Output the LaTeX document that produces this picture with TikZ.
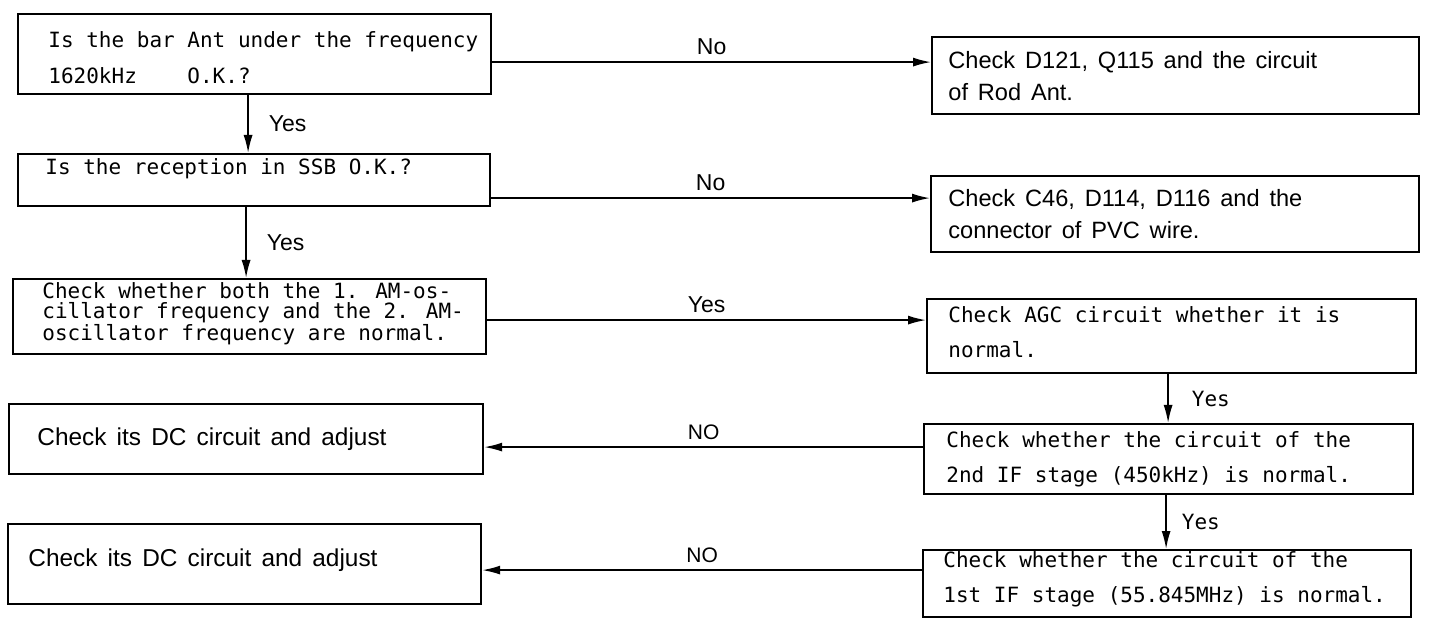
\documentclass[tikz,border=0pt]{standalone}
\usepackage{fontspec}
\setmainfont{Liberation Sans}
\newfontfamily\monof{DejaVu Sans Mono}
\newfontfamily\sansf[WordSpace=1.5]{Liberation Sans}
\usetikzlibrary{arrows.meta}
\begin{document}
\begin{tikzpicture}[x=0.5pt,y=-0.5pt,
  box/.style={draw, line width=1.1pt, inner sep=0pt, anchor=north west},
  mono/.style={font=\monof\fontsize{10.5pt}{18pt}\selectfont, align=left, inner sep=0pt, anchor=west},
  monotight/.style={font=\monof\fontsize{10.5pt}{10pt}\selectfont, align=left, inner sep=0pt, anchor=west},
  monoR/.style={font=\monof\fontsize{10.5pt}{17.5pt}\selectfont, align=left, inner sep=0pt, anchor=west},
  sansL/.style={font=\sansf\fontsize{12.2pt}{16pt}\selectfont, align=left, inner sep=0pt, anchor=west},
  sansR/.style={font=\sansf\fontsize{11.8pt}{16pt}\selectfont, align=left, inner sep=0pt, anchor=west},
  lab/.style={font=\sansf\fontsize{11.5pt}{12pt}\selectfont, inner sep=0pt},
  labcaps/.style={font=\sansf\fontsize{10.5pt}{12pt}\selectfont, inner sep=0pt},
  monolab/.style={font=\monof\fontsize{10.5pt}{12pt}\selectfont, inner sep=0pt},
  conn/.style={line width=0.8pt, -{Latex[length=9pt,width=4.5pt]}}
]
\fill[white] (0,0) rectangle (1436,620);
\useasboundingbox (0,0) rectangle (1436,620);

% left column boxes
\node[box, minimum width=236.5pt, minimum height=40pt] (b1) at (17,13) {};
\node[box, minimum width=236pt, minimum height=26pt] (b2) at (17,153) {};
\node[box, minimum width=236.5pt, minimum height=37.5pt] (b3) at (12,278) {};
\node[box, minimum width=237pt, minimum height=35pt] (b4) at (8,403) {};
\node[box, minimum width=236.5pt, minimum height=40pt] (b5) at (7,523) {};
% right column boxes
\node[box, minimum width=243.5pt, minimum height=38.5pt] (r1) at (931,36) {};
\node[box, minimum width=244pt, minimum height=38pt] (r2) at (930,175) {};
\node[box, minimum width=244.5pt, minimum height=37pt] (r3) at (926,298) {};
\node[box, minimum width=244.5pt, minimum height=35pt] (r4) at (923,423) {};
\node[box, minimum width=244pt, minimum height=33.5pt] (r5) at (922,549) {};

% texts
\node[mono] (t1) at ([xshift=15.5pt,yshift=-2pt]b1.west) {Is the bar Ant under the frequency\\1620kHz\ \ \ \ O.K.?};
\node[mono] (t2) at ([xshift=14pt,yshift=5.5pt]b2.west) {Is the reception in SSB O.K.?};
\node[monotight] (t3) at ([xshift=15pt,yshift=1.5pt]b3.west) {Check whether both the 1. AM-os-\\cillator frequency and the 2. AM-\\oscillator frequency are normal.};
\node[sansL] (t4) at ([xshift=14.5pt]b4.west) {Check its DC circuit and adjust};
\node[sansL] (t5) at ([xshift=10.5pt,yshift=2pt]b5.west) {Check its DC circuit and adjust};
\node[sansR] (u1) at ([xshift=8.5pt]r1.west) {Check D121, Q115 and the circuit\\of Rod Ant.};
\node[sansR] (u2) at ([xshift=9pt]r2.west) {Check C46, D114, D116 and the\\connector of PVC wire.};
\node[monoR] (u3) at ([xshift=11pt,yshift=2pt]r3.west) {Check AGC circuit whether it is\\normal.};
\node[monoR] (u4) at ([xshift=11.5pt]r4.west) {Check whether the circuit of the\\2nd IF stage (450kHz) is normal.};
\node[monoR] (u5) at ([xshift=10.5pt,yshift=2pt]r5.west) {Check whether the circuit of the\\1st IF stage (55.845MHz) is normal.};

% horizontal connectors
\coordinate (c1) at ([yshift=-4pt]b1.east);
\draw[conn] (c1) -- (c1 -| r1.west) node[midway, above=3.5pt, lab] {No};
\coordinate (c2) at ([yshift=-9pt]b2.east);
\draw[conn] (c2) -- (c2 -| r2.west) node[midway, above=3.5pt, lab] {No};
\coordinate (c3) at ([yshift=-1.75pt]b3.east);
\draw[conn] (c3) -- (c3 -| r3.west) node[midway, above=3.5pt, lab] {Yes};
\coordinate (c4) at ([yshift=6pt]r4.west);
\draw[conn] (c4) -- (c4 -| b4.east) node[midway, above=3.5pt, labcaps] {NO};
\coordinate (c5) at ([yshift=6.75pt]r5.west);
\draw[conn] (c5) -- (c5 -| b5.east) node[midway, above=3.5pt, labcaps] {NO};

% vertical connectors
\coordinate (c6) at ([xshift=-3.25pt]b1.south);
\draw[conn] (c6) -- (c6 |- b2.north) node[midway, right=10pt, lab] {Yes};
\coordinate (c7) at ([xshift=-4pt]b2.south);
\draw[conn] (c7) -- (c7 |- b3.north) node[midway, right=10pt, lab] {Yes};
\coordinate (c8) at ([xshift=-1.75pt]r3.south);
\draw[conn] (c8) -- (c8 |- r4.north) node[midway, right=11.5pt, monolab] {Yes};
\coordinate (c9) at ([xshift=-1.25pt]r4.south);
\draw[conn] (c9) -- (c9 |- r5.north) node[midway, right=7.5pt, monolab] {Yes};
\end{tikzpicture}
\end{document}
